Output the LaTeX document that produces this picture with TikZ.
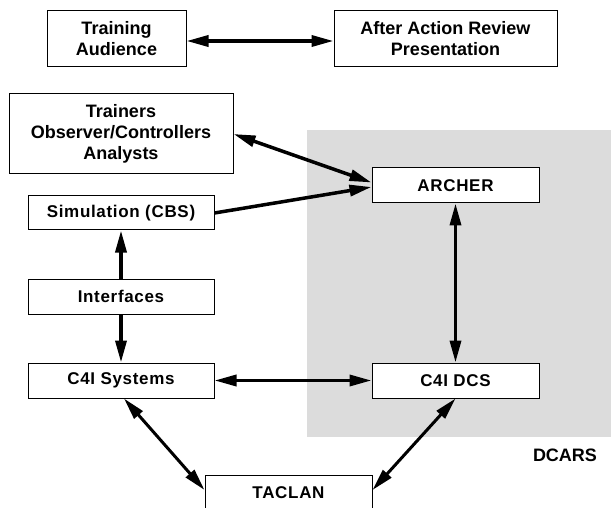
\documentclass[tikz,border=0pt]{standalone}
\usepackage{fontspec}
\setmainfont{Liberation Sans}
\newfontfamily\lowfont[LetterSpace=4]{Liberation Sans}
\usetikzlibrary{arrows.meta}
\definecolor{dcgray}{RGB}{220,220,220}
\begin{document}
\begin{tikzpicture}[x=1pt,y=-1pt,
  box/.style={draw=black,line width=1pt,fill=white,inner sep=0pt,align=center,
    font=\fontsize{18}{21}\selectfont\bfseries},
  lowbox/.style={box,font=\lowfont\fontsize{17}{20}\selectfont\bfseries},
  link/.style={line width=3.5pt,draw=black},
  tipx/.tip={Triangle[length=22pt,width=11pt]},
  both/.style={link,tipx-tipx},
  one/.style={link,-tipx}]
\useasboundingbox (0,0) rectangle (611,508);
\clip (0,0) rectangle (611,508);
\fill[dcgray] (307,130) rectangle (611,437);
\node[box,minimum width=139pt,minimum height=56pt] (ta) at (116.5,39) {Training\\Audience};
\node[box,minimum width=223pt,minimum height=56pt] (aar) at (445.5,39) {After Action Review\\Presentation};
\node[box,minimum width=224pt,minimum height=80pt] (tr) at (121,134) {Trainers\\Observer/Controllers\\Analysts};
\node[lowbox,minimum width=167pt,minimum height=35pt] (archer) at (455.5,185.5) {ARCHER};
\node[lowbox,minimum width=186pt,minimum height=34pt] (sim) at (121,213) {Simulation (CBS)};
\node[lowbox,minimum width=186pt,minimum height=35pt] (int) at (121,296.5) {Interfaces};
\node[lowbox,minimum width=186pt,minimum height=35pt] (c4s) at (121,380.5) {C4I Systems};
\node[lowbox,minimum width=167pt,minimum height=35pt] (dcs) at (455.5,380.5) {C4I DCS};
\node[lowbox,minimum width=167pt,minimum height=36pt] (tac) at (288.5,493) {TACLAN};
\node[font=\fontsize{18}{21}\selectfont\bfseries] (dcars) at (565,455) {DCARS};
\draw[both] ([yshift=-2pt]ta.east) -- ([yshift=-2pt]aar.west);
\draw[both] (tr.east) -- ([yshift=3pt]archer.west);
\draw[one] (sim.east) -- ([yshift=-1.5pt]archer.west);
\draw[one] (int.north) -- (sim.south);
\draw[one] (int.south) -- (c4s.north);
\draw[both] (archer.south) -- (dcs.north);
\draw[both] (c4s.east) -- (dcs.west);
\draw[both,line width=3pt] ([xshift=3pt]c4s.south) -- ([yshift=3pt]tac.west);
\draw[both,line width=3pt] (dcs.south) -- ([yshift=3pt]tac.east);
\end{tikzpicture}
\end{document}
